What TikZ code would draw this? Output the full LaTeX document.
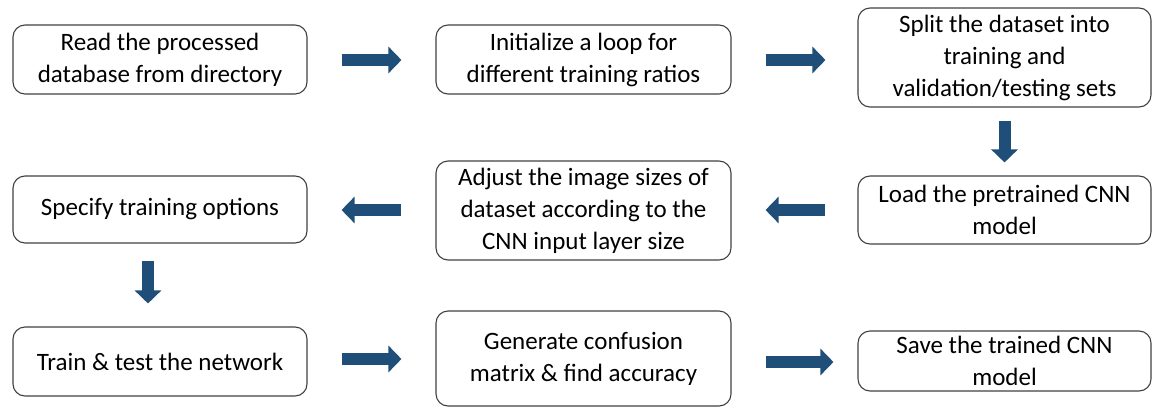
\documentclass[tikz,border=0pt]{standalone}
\usepackage{fontspec}
\setmainfont{Carlito}
\usepackage{tikz}
\usetikzlibrary{arrows.meta}
\definecolor{arrowblue}{RGB}{31,78,121}
\definecolor{boxline}{RGB}{64,64,64}
\tikzstyle{box} = [draw=boxline, line width=1.1pt, rounded corners=12pt, align=center, inner sep=0pt, font=\fontsize{25}{32}\selectfont]
\tikzstyle{fatarrow} = [draw=arrowblue, line width=12pt, -{Triangle[width=26pt,length=13pt]}, shorten <=34pt, shorten >=34pt]

\begin{document}
\begin{tikzpicture}[x=1pt,y=-1pt]
        \useasboundingbox (0,0) rectangle (1155,407);
        % first row
        \node[box, minimum width=294pt, minimum height=69pt] at (160,59.5) (read) {Read the processed\\database from directory};
        \node[box, minimum width=295pt, minimum height=69pt] at (583.5,59.5) (loop) {Initialize a loop for\\different training ratios};
        \node[box, minimum width=293pt, minimum height=99pt] at (1004.5,57.5) (split) {Split the dataset into\\training and\\validation/testing sets};
        % second row
        \node[box, minimum width=294pt, minimum height=67pt] at (160,209.5) (options) {Specify training options};
        \node[box, minimum width=295pt, minimum height=99pt] at (583.5,210.5) (adjust) {Adjust the image sizes of\\dataset according to the\\CNN input layer size};
        \node[box, minimum width=293pt, minimum height=68pt] at (1004.5,210) (load) {Load the pretrained CNN\\model};
        % third row
        \node[box, minimum width=294pt, minimum height=69pt] at (160,361.5) (train) {Train \& test the network};
        \node[box, minimum width=295pt, minimum height=95pt] at (583.5,358.5) (confusion) {Generate confusion\\matrix \& find accuracy};
        \node[box, minimum width=293pt, minimum height=60pt] at (1004.5,361) (save) {Save the trained CNN\\model};

        \draw[fatarrow] (read.east |- 0,60) -- (loop.west |- 0,60);
        \draw[fatarrow, shorten >=32pt] (loop.east |- 0,60) -- (split.west |- 0,60);
        \draw[fatarrow, shorten <=13pt, shorten >=13pt] (split.south) -- (load.north);
        \draw[fatarrow, shorten <=32pt] (load.west |- 0,210) -- (adjust.east |- 0,210);
        \draw[fatarrow] (adjust.west |- 0,210) -- (options.east |- 0,210);
        \draw[fatarrow, shorten <=17pt, shorten >=23pt] ([xshift=-12pt]options.south) -- ([xshift=-12pt]train.north);
        \draw[fatarrow] (train.east |- 0,359) -- (confusion.west |- 0,359);
        \draw[fatarrow, shorten >=24pt] (confusion.east |- 0,362) -- (save.west |- 0,362);

    \end{tikzpicture}
\end{document}
